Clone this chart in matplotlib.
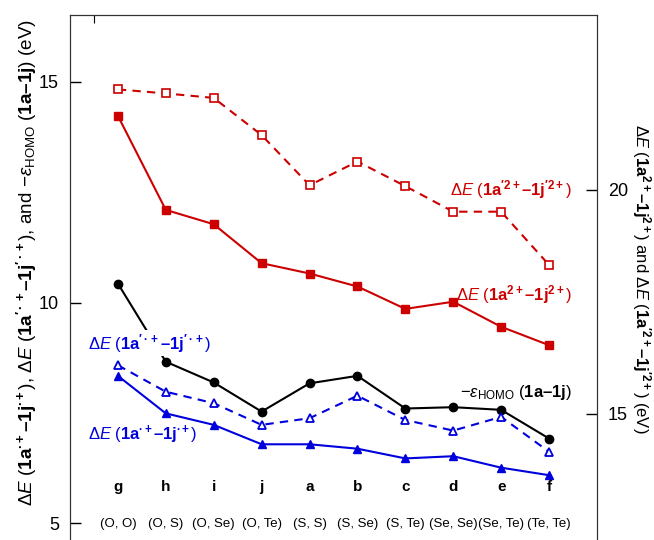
import matplotlib
matplotlib.use('Agg')
import matplotlib.pyplot as plt

plt.rcParams['font.family'] = ['Liberation Sans', 'DejaVu Sans']
plt.rcParams['mathtext.fontset'] = 'custom'
plt.rcParams['mathtext.rm'] = 'Liberation Sans'
plt.rcParams['mathtext.it'] = 'Liberation Sans:italic'
plt.rcParams['mathtext.bf'] = 'Liberation Sans:bold'

# categories (x axis)
letters = ['g', 'h', 'i', 'j', 'a', 'b', 'c', 'd', 'e', 'f']
pairs = ['(O, O)', '(O, S)', '(O, Se)', '(O, Te)', '(S, S)', '(S, Se)',
         '(S, Te)', '(Se, Se)', '(Se, Te)', '(Te, Te)']

# left axis (eV)
homo = [10.43, 8.66, 8.19, 7.53, 8.17, 8.34, 7.60, 7.63, 7.57, 6.92]
de_rad = [8.34, 7.49, 7.23, 6.79, 6.79, 6.69, 6.47, 6.52, 6.26, 6.09]
de_rad_p = [8.58, 7.98, 7.72, 7.23, 7.38, 7.89, 7.34, 7.10, 7.41, 6.62]

# right axis (eV)
de_di = [21.65, 19.55, 19.23, 18.36, 18.13, 17.84, 17.34, 17.50, 16.94, 16.53]
de_di_p = [22.24, 22.15, 22.05, 21.22, 20.10, 20.63, 20.08, 19.51, 19.51, 18.32]

red = '#cc0000'
blue = '#0000dd'
x = list(range(len(letters)))

fig = plt.figure(figsize=(6.54, 5.40), dpi=100)
ax = fig.add_axes([0.107, -0.0509, 0.8058, 1.0222])
ax2 = ax.twinx()

ylo, yhi = 4.0, 16.5
ax.set_xlim(-1, 10)
ax.set_ylim(ylo, yhi)
ax2.set_ylim(0.9858 * ylo + 7.624, 0.9858 * yhi + 7.624)

# left axis series
ax.plot(x, homo, '-o', color='black', lw=1.5, ms=6, zorder=2)
ax.plot(x, de_rad_p, '--^', color=blue, lw=1.5, ms=6, mfc='white',
        mew=1.3, dashes=(4, 3), zorder=2)
ax.plot(x, de_rad, '-^', color=blue, lw=1.5, ms=6, zorder=2)

# right axis series
ax2.plot(x, de_di_p, '--s', color=red, lw=1.5, ms=6, mfc='white',
         mew=1.2, dashes=(4, 3))
ax2.plot(x, de_di, '-s', color=red, lw=1.5, ms=6)

for xi, l, p in zip(x, letters, pairs):
    ax.text(xi, 5.82, l, ha='center', va='center', fontsize=11, fontweight='bold')
    ax.text(xi, 4.98, p, ha='center', va='center', fontsize=9.5)

ax.set_yticks([5, 10, 15])
ax2.set_yticks([15, 20])
ax.tick_params(axis='y', direction='in', length=8, width=1, labelsize=13, pad=8)
ax2.tick_params(axis='y', direction='in', length=8, width=1, labelsize=13, pad=8)
ax.xaxis.set_ticks_position('top')
ax.set_xticks([-0.5])
ax.tick_params(axis='x', direction='in', length=6, labeltop=False, labelbottom=False)
for s in list(ax.spines.values()) + list(ax2.spines.values()):
    s.set_color('#333333')

dE = r'$\mathrm{Δ}\mathit{E}$'
ax.set_ylabel(dE + r' ($\mathbf{1a^{\bullet+}–1j^{\bullet+}}$), ' + dE +
              r" ($\mathbf{1a^{\prime\bullet+}–1j^{\prime\bullet+}}$), and "
              r'$-\mathit{ε}_{\mathrm{HOMO}}$ ($\mathbf{1a–1j}$) (eV)',
              fontsize=13.6)
ax.yaxis.set_label_coords(-0.058, 0.553)
ax2.set_ylabel(dE + r' ($\mathbf{1a^{2+}–1j^{2+}}$) and ' + dE +
               r" ($\mathbf{1a^{\prime 2+}–1j^{\prime 2+}}$) (eV)",
               fontsize=12, rotation=270, labelpad=18)
ax2.yaxis.label.set_y(0.523)

ax.text(9.48, 12.55, dE + r" ($\mathbf{1a^{\prime 2+}–1j^{\prime 2+}}$)",
        color=red, fontsize=12, ha='right', va='center')
ax.text(9.48, 10.17, dE + r' ($\mathbf{1a^{2+}–1j^{2+}}$)',
        color=red, fontsize=12, ha='right', va='center')
ax.text(9.48, 7.97, r'$-\mathit{ε}_{\mathrm{HOMO}}$ ($\mathbf{1a–1j}$)',
        color='black', fontsize=12, ha='right', va='center')
ax.text(-0.63, 9.08, dE + r" ($\mathbf{1a^{\prime\bullet+}–1j^{\prime\bullet+}}$)",
        color=blue, fontsize=12, ha='left', va='center', zorder=5,
        bbox=dict(facecolor='white', edgecolor='none', pad=1))
ax.text(-0.63, 7.0, dE + r' ($\mathbf{1a^{\bullet+}–1j^{\bullet+}}$)',
        color=blue, fontsize=12, ha='left', va='center')

ax.set_zorder(ax2.get_zorder() + 1)
ax.patch.set_visible(False)

fig.savefig('out.png', dpi=100)
